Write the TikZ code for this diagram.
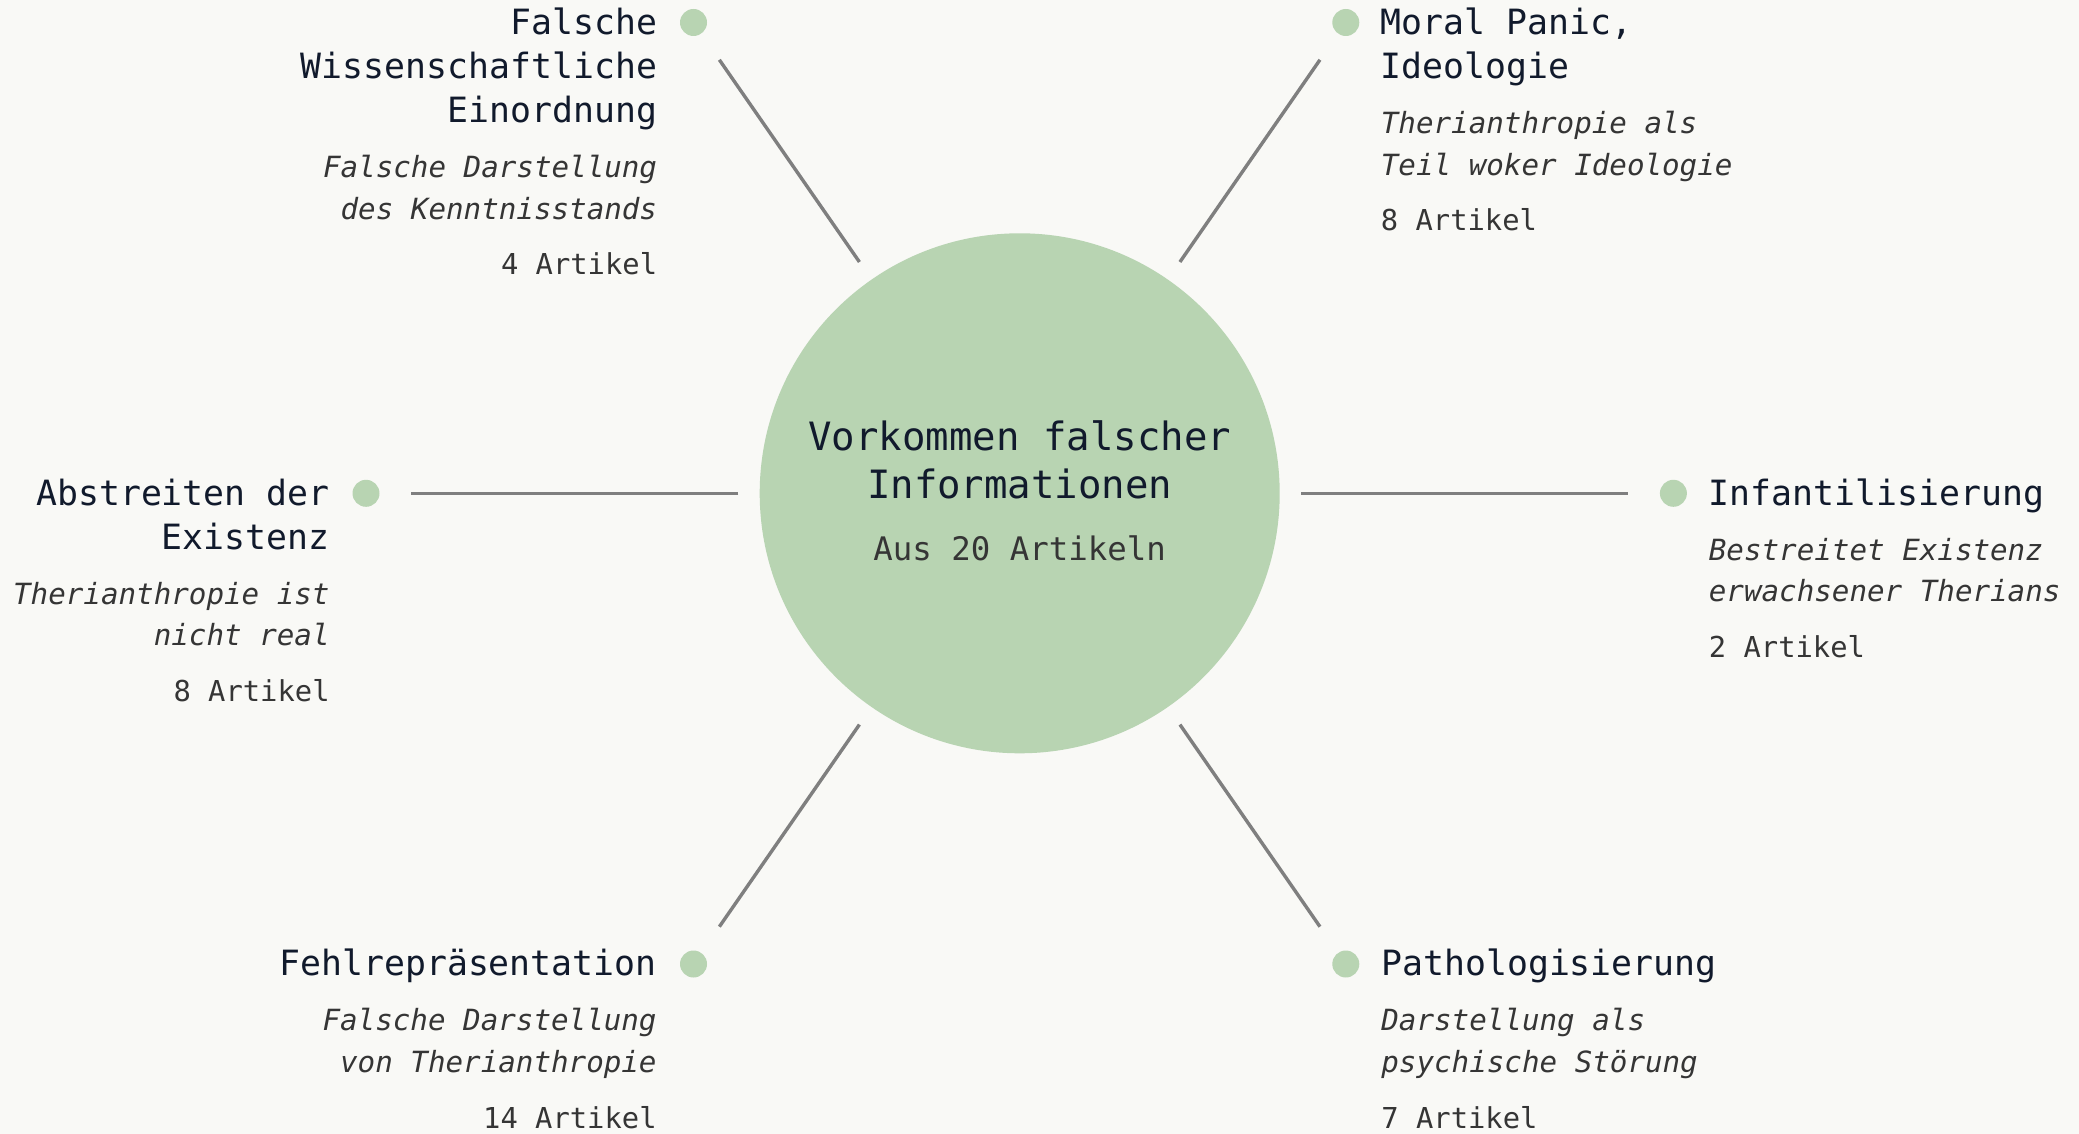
\documentclass[tikz,border=0pt]{standalone}
\usepackage{fontspec}
\setmainfont{DejaVu Sans Mono}
\definecolor{bg}{HTML}{F9F9F6}
\definecolor{leaf}{HTML}{B8D4B2}
\definecolor{ink}{HTML}{111A2C}
\definecolor{note}{HTML}{353535}
\definecolor{spokegray}{HTML}{7F7F7F}
\tikzset{
  hubcircle/.style={circle,fill=leaf,minimum size=260pt,inner sep=0pt},
  leafdot/.style={circle,fill=leaf,minimum size=13.5pt,inner sep=0pt},
  spoke/.style={draw=spokegray,line width=1.7pt,shorten <=10.5pt,shorten >=15.75pt},
  ttl/.style={text=ink,inner sep=0pt,font=\fontsize{17.4pt}{22pt}\selectfont},
  dsc/.style={text=note,inner sep=0pt,font=\fontsize{14.6pt}{20.75pt}\selectfont\itshape},
  cnt/.style={text=note,inner sep=0pt,font=\fontsize{14.4pt}{20pt}\selectfont},
}
\begin{document}
\begin{tikzpicture}[x=0.5pt,y=-0.5pt]
  \fill[bg] (0,0) rectangle (2079,1134);
  \useasboundingbox (0,0) rectangle (2079,1134);
  % centre
  \path (1019.7,493.3) node[hubcircle] (hub) {};
  \path (1019.7,416.4) node[anchor=north,align=center,text=ink,inner sep=0pt,
    font=\fontsize{19.5pt}{24pt}\selectfont] (hubtitle) {\strut Vorkommen falscher\\Informationen};
  \path (1019.7,560) node[anchor=base,text=note,inner sep=0pt,
    font=\fontsize{16.2pt}{20pt}\selectfont] (hubcount) {Aus 20 Artikeln};
  % dots
  \path (693.5,22.5) node[leafdot] (dwiss) {};
  \path (1345.8,22.5) node[leafdot] (dmoral) {};
  \path (366,493.3) node[leafdot] (dexist) {};
  \path (1673.4,493.3) node[leafdot] (dinfant) {};
  \path (693.5,964) node[leafdot] (dfehl) {};
  \path (1345.8,964) node[leafdot] (dpatho) {};
  % spokes
  \draw[spoke] (hub) -- (dwiss);
  \draw[spoke] (hub) -- (dmoral);
  \draw[spoke] (hub) -- (dexist);
  \draw[spoke] (hub) -- (dinfant);
  \draw[spoke] (hub) -- (dfehl);
  \draw[spoke] (hub) -- (dpatho);
  % top left
  \path (657.5,3.7) node[ttl,anchor=north east,align=right] (twiss) {\strut Falsche\\Wissenschaftliche\\Einordnung};
  \path (657.5,148.45) node[dsc,anchor=north east,align=right] (swiss) {\strut Falsche Darstellung\\des Kenntnisstands};
  \path (657.5,275) node[cnt,anchor=base east] (nwiss) {4 Artikel};
  % top right
  \path (1380.5,3.7) node[ttl,anchor=north west,align=left] (tmoral) {\strut Moral Panic,\\Ideologie};
  \path (1380.5,104.45) node[dsc,anchor=north west,align=left] (smoral) {\strut Therianthropie als\\Teil woker Ideologie};
  \path (1380.5,231) node[cnt,anchor=base west] (nmoral) {8 Artikel};
  % left
  \path (330,474.2) node[ttl,anchor=north east,align=right] (texist) {\strut Abstreiten der\\Existenz};
  \path (330,574.95) node[dsc,anchor=north east,align=right] (sexist) {\strut Therianthropie ist\\nicht real};
  \path (330,701.5) node[cnt,anchor=base east] (nexist) {8 Artikel};
  % right
  \path (1708.5,474.2) node[ttl,anchor=north west,align=left] (tinfant) {\strut Infantilisierung};
  \path (1708.5,530.95) node[dsc,anchor=north west,align=left] (sinfant) {\strut Bestreitet Existenz\\erwachsener Therians};
  \path (1708.5,657.5) node[cnt,anchor=base west] (ninfant) {2 Artikel};
  % bottom left
  \path (657,944.7) node[ttl,anchor=north east,align=right] (tfehl) {\strut Fehlrepräsentation};
  \path (657,1001.45) node[dsc,anchor=north east,align=right] (sfehl) {\strut Falsche Darstellung\\von Therianthropie};
  \path (657,1128) node[cnt,anchor=base east] (nfehl) {14 Artikel};
  % bottom right
  \path (1381,944.7) node[ttl,anchor=north west,align=left] (tpatho) {\strut Pathologisierung};
  \path (1381,1001.45) node[dsc,anchor=north west,align=left] (spatho) {\strut Darstellung als\\psychische Störung};
  \path (1381,1128) node[cnt,anchor=base west] (npatho) {7 Artikel};
\end{tikzpicture}
\end{document}
